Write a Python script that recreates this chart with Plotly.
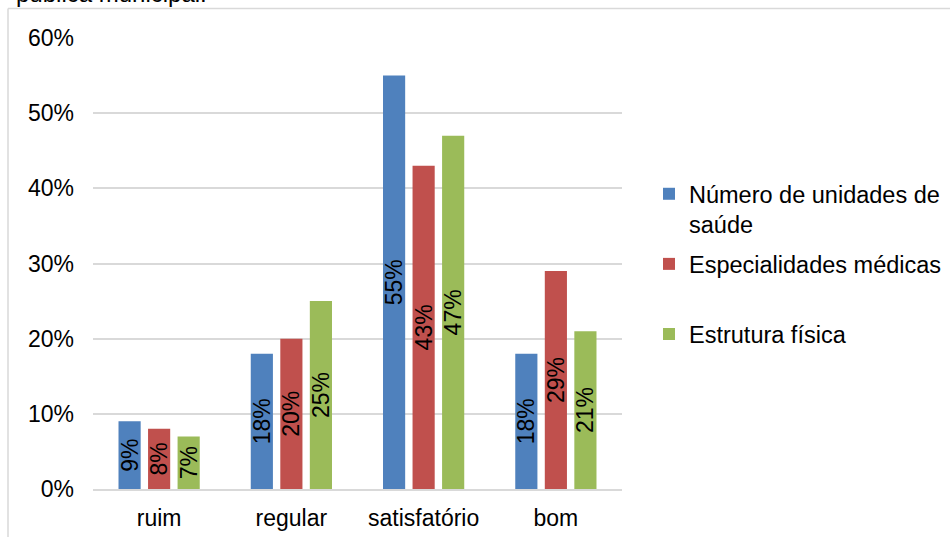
import plotly.graph_objects as go

# Categories and series (share of responses)
categories = ["ruim", "regular", "satisfatório", "bom"]
series_names = [
    "Número de unidades de<br>saúde",
    "Especialidades médicas<br>\u00a0",
    "Estrutura física",
]
unidades = [0.09, 0.18, 0.55, 0.18]
especialidades = [0.08, 0.20, 0.43, 0.29]
estrutura = [0.07, 0.25, 0.47, 0.21]
y_ticks = [0, 0.1, 0.2, 0.3, 0.4, 0.5, 0.6]
colors = ["#4F81BD", "#C0504D", "#9BBB59"]

FONT = "Liberation Sans, Arial, sans-serif"
W, H = 950, 537
L, R, T, B = 93, 328, 38, 48
PW, PH = W - L - R, H - T - B


def px_x(p):
    return (p - L) / PW


def px_y(p):
    return (H - B - p) / PH


fig = go.Figure()
for i, (name, vals) in enumerate(zip(series_names, [unidades, especialidades, estrutura])):
    fig.add_trace(go.Bar(
        x=categories,
        y=vals,
        name=name,
        legendgroup=str(i),
        marker=dict(color=colors[i], line=dict(width=0)),
        text=[f"{round(v * 100)}%" for v in vals],
        textposition="inside",
        insidetextanchor="middle",
        textangle=-90,
        textfont=dict(family=FONT, size=23, color="black"),
        hoverinfo="skip",
    ))

# Frame lines along the top and left of the chart area
frame = "#D9D9D9"
fig.add_shape(type="line", xref="paper", yref="paper",
              x0=px_x(8), x1=px_x(W + 5), y0=px_y(8.5), y1=px_y(8.5),
              line=dict(color=frame, width=1.5))
fig.add_shape(type="line", xref="paper", yref="paper",
              x0=px_x(8), x1=px_x(8), y0=px_y(8.5), y1=px_y(H + 5),
              line=dict(color=frame, width=1.5))

# Tail of the caption running above the frame
fig.add_annotation(text="pública municipal.", xref="paper", yref="paper",
                   x=px_x(14), y=px_y(-6), xanchor="left", yanchor="middle",
                   showarrow=False, font=dict(family=FONT, size=24, color="black"))

fig.update_layout(
    width=W, height=H,
    margin=dict(l=L, r=R, t=T, b=B, autoexpand=False),
    paper_bgcolor="white", plot_bgcolor="white",
    barmode="group", bargap=0.33, bargroupgap=0.25,
    uniformtext=dict(minsize=23, mode="show"),
    font=dict(family=FONT, size=23, color="black"),
    showlegend=True,
    legend=dict(
        x=px_x(649), y=px_y(172), xanchor="left", yanchor="top",
        font=dict(family=FONT, size=23.5, color="black"),
        valign="top", tracegroupgap=6, bgcolor="rgba(0,0,0,0)",
        traceorder="grouped",
    ),
    xaxis=dict(
        showgrid=False, showline=True, linecolor=frame, linewidth=1.5,
        ticks="", tickfont=dict(family=FONT, size=23, color="black"),
        ticklabelstandoff=8,
    ),
    yaxis=dict(
        range=[0, 0.6], tickvals=y_ticks, tickformat=".0%",
        showgrid=True, gridcolor=frame, gridwidth=1.5,
        zeroline=False, showline=False, ticks="",
        tickfont=dict(family=FONT, size=23, color="black"),
        ticklabelstandoff=18,
    ),
)

fig.write_html("out.html")
